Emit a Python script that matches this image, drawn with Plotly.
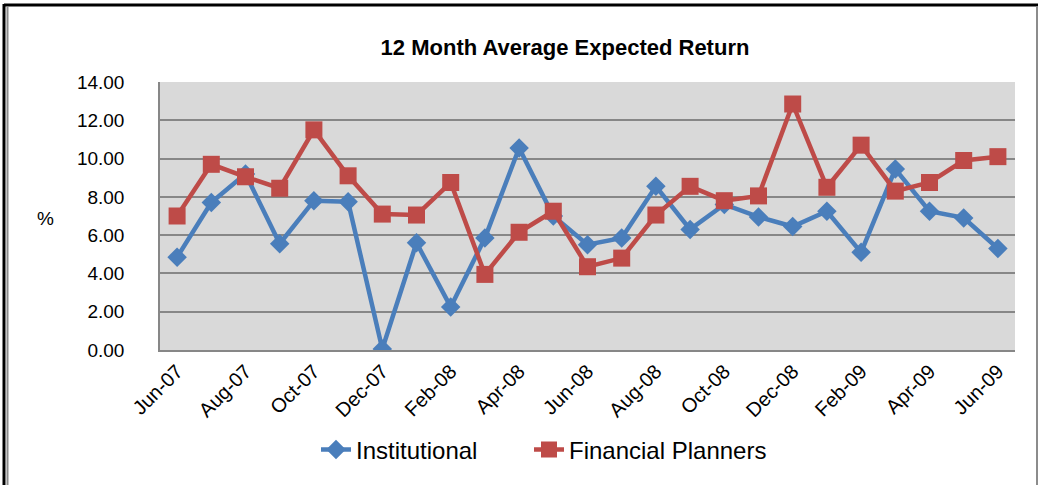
import plotly.graph_objects as go

months = ["Jun-07", "Jul-07", "Aug-07", "Sep-07", "Oct-07", "Nov-07", "Dec-07",
          "Jan-08", "Feb-08", "Mar-08", "Apr-08", "May-08", "Jun-08", "Jul-08",
          "Aug-08", "Sep-08", "Oct-08", "Nov-08", "Dec-08", "Jan-09", "Feb-09",
          "Mar-09", "Apr-09", "May-09", "Jun-09"]
institutional = [4.85, 7.7, 9.2, 5.55, 7.8, 7.75, 0.05, 5.6, 2.25, 5.85, 10.55, 7.0,
                 5.5, 5.85, 8.55, 6.3, 7.6, 6.95, 6.45, 7.25, 5.1, 9.45, 7.25, 6.9, 5.3]
planners = [7.0, 9.7, 9.05, 8.45, 11.5, 9.1, 7.1, 7.05, 8.75, 3.95, 6.15, 7.25,
            4.35, 4.8, 7.05, 8.55, 7.8, 8.05, 12.85, 8.5, 10.7, 8.3, 8.75, 9.9, 10.1]
tick_labels = months[::2]
y_ticks = [0, 2, 4, 6, 8, 10, 12, 14]

FONT = "Liberation Sans, Arial, sans-serif"

fig = go.Figure()
fig.add_trace(go.Scatter(
    x=months, y=institutional, name="Institutional", mode="lines+markers",
    line=dict(color="#4A7EBB", width=4.5), legend="legend",
    marker=dict(symbol="diamond", size=15, color="#4A7EBB")))
fig.add_trace(go.Scatter(
    x=months, y=planners, name="Financial Planners", mode="lines+markers",
    line=dict(color="#BE4B48", width=4.5), legend="legend2",
    marker=dict(symbol="square", size=17, color="#BE4B48")))

L, R, T, B = 160, 25, 82, 135
W, H = 1040, 485
pw, ph = W - L - R, H - T - B

def px(x):
    return (x - L) / pw

def py(y):
    return (H - B - y) / ph

legend_style = dict(orientation="h", xanchor="left", y=py(450), yanchor="middle",
                    font=dict(size=24, family=FONT), bgcolor="rgba(0,0,0,0)")

fig.update_layout(
    width=W, height=H,
    margin=dict(l=L, r=R, t=T, b=B),
    paper_bgcolor="white", plot_bgcolor="#D9D9D9",
    font=dict(family=FONT, color="black", size=19),
    title=dict(text="<b>12 Month Average Expected Return</b>",
               x=px(565), xref="paper", xanchor="center",
               y=1 - 47 / H, yanchor="middle",
               font=dict(size=22, family=FONT)),
    showlegend=True,
    legend=dict(x=px(316), **legend_style),
    legend2=dict(x=px(529), **legend_style),
    xaxis=dict(type="category", range=[-0.5, len(months) - 0.5],
               tickvals=tick_labels, ticktext=tick_labels, tickangle=-45,
               showgrid=False, showline=True, linecolor="#878787", linewidth=1.5,
               ticks="", tickfont=dict(size=20, family=FONT)),
    yaxis=dict(range=[0, 14], tickvals=y_ticks,
               ticktext=[f"{v:.2f}" for v in y_ticks],
               showgrid=True, gridcolor="#878787", gridwidth=1.5,
               showline=True, linecolor="#878787", linewidth=1.5,
               ticks="", zeroline=False, ticklabelstandoff=30,
               tickfont=dict(size=19, family=FONT)),
    annotations=[dict(text="%", x=px(45), y=py(218), xref="paper", yref="paper",
                      xanchor="center", yanchor="middle",
                      showarrow=False, font=dict(size=19, family=FONT))],
    shapes=[
        dict(type="line", xref="paper", yref="paper", x0=px(4), x1=px(4),
             y0=py(4), y1=py(490), line=dict(color="black", width=3)),
        dict(type="line", xref="paper", yref="paper", x0=px(4), x1=px(1038),
             y0=py(5), y1=py(5), line=dict(color="black", width=3)),
        dict(type="line", xref="paper", yref="paper", x0=px(7.5), x1=px(7.5),
             y0=py(7), y1=py(490), line=dict(color="#8C8C8C", width=2)),
        dict(type="line", xref="paper", yref="paper", x0=px(1037), x1=px(1037),
             y0=py(6), y1=py(490), line=dict(color="#8C8C8C", width=2)),
    ],
)

fig.write_html("out.html", config={"displayModeBar": False},
               post_script="document.body.style.margin='0';"
                           "document.body.style.overflow='hidden';")
